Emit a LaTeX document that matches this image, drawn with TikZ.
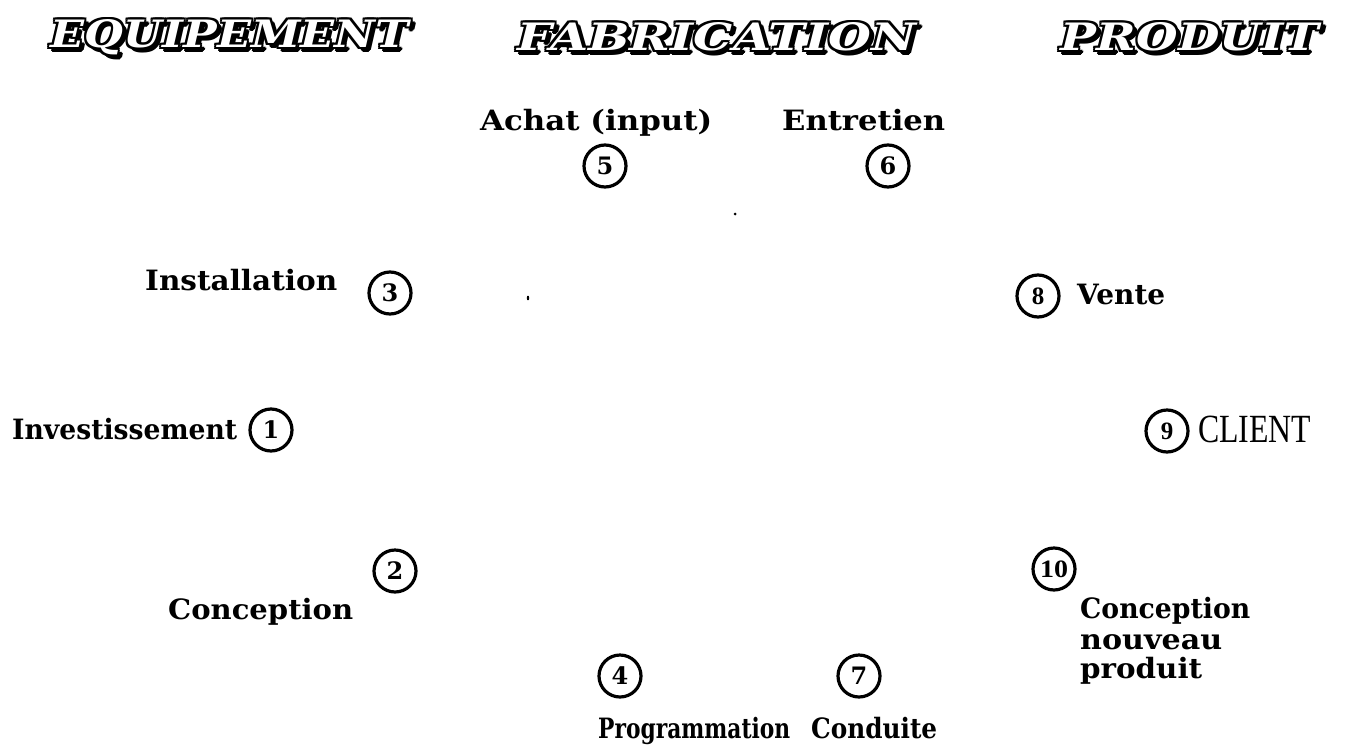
\documentclass[tikz,border=0pt]{standalone}
\usepackage{fontspec}
\usepackage{graphicx}
\setmainfont{DejaVu Serif}
\newfontfamily\tmsfont{Liberation Serif}
\newcommand{\fitw}[2]{\resizebox{#1}{\height}{#2}}
\newcommand{\hdrtxt}[2]{\resizebox{#1}{28pt}{\bfseries\itshape #2}}
\tikzset{
  lbl/.style={anchor=base west, inner sep=0pt, font=\fontsize{28}{30}\selectfont\bfseries},
  num/.style={circle, draw, line width=3.2pt, minimum size=42pt, inner sep=0pt,
              font=\fontsize{24}{24}\selectfont\bfseries},
  tnum/.style={font=\fontsize{25}{25}\selectfont\tmsfont\bfseries},
  hdr/.style={inner sep=0pt, anchor=center},
}
\begin{document}
\begin{tikzpicture}[x=1pt,y=-1pt]
\useasboundingbox (0,0) rectangle (1346,747);
% headers (outline + shadow)
\foreach \dx/\dy [count=\i] in {-2/-2,0/-2,2/-2,-2/0,2/0,-2/2,0/2,2/2,3/3,4/4,4/2,2/4,3/5,5/3}{
  \node[hdr,text=black] (sa\i) at (230+\dx,37+\dy) {\hdrtxt{358pt}{EQUIPEMENT}};
  \node[hdr,text=black] (sb\i) at (717+\dx,37+\dy) {\hdrtxt{398pt}{FABRICATION}};
  \node[hdr,text=black] (sc\i) at (1190+\dx,37+\dy) {\hdrtxt{258pt}{PRODUIT}};
}
\node[hdr,text=white] (hEq) at (230,37) {\hdrtxt{358pt}{EQUIPEMENT}};
\node[hdr,text=white] (hFab) at (717,37) {\hdrtxt{398pt}{FABRICATION}};
\node[hdr,text=white] (hProd) at (1190,37) {\hdrtxt{258pt}{PRODUIT}};
% numbered circles
\node[num] (n1) at (271,430) {1};
\node[num] (n2) at (395,571) {2};
\node[num] (n3) at (390,293) {3};
\node[num] (n4) at (620,676) {4};
\node[num] (n5) at (605,166) {5};
\node[num] (n6) at (888,166) {6};
\node[num] (n7) at (859,676) {7};
\node[num,tnum] (n8) at (1038,296) {8};
\node[num,tnum] (n9) at (1167,431) {9};
\node[num,tnum] (n10) at (1054,569) {\fitw{28pt}{10}};
% labels
\node[lbl] (tAchat) at (480,130) {\fitw{232pt}{Achat (input)}};
\node[lbl] (tEntr) at (782,130) {\fitw{163pt}{Entretien}};
\node[lbl] (tInst) at (145,290) {\fitw{192pt}{Installation}};
\node[lbl] (tVente) at (1077,304) {\fitw{88pt}{Vente}};
\node[lbl] (tInv) at (12,439) {\fitw{225pt}{Investissement}};
\node[anchor=base west, inner sep=0pt, font=\fontsize{40}{42}\selectfont\tmsfont] (tClient) at (1198,442) {\fitw{113pt}{CLIENT}};
\node[lbl] (tConc) at (168,619) {\fitw{185pt}{Conception}};
\node[lbl] (tCnp1) at (1080,618) {\fitw{170pt}{Conception}};
\node[lbl] (tCnp2) at (1080,649) {\fitw{142pt}{nouveau}};
\node[lbl] (tCnp3) at (1080,678) {\fitw{122pt}{produit}};
\node[lbl] (tProg) at (598,738) {\fitw{192pt}{Programmation}};
\node[lbl] (tCond) at (811,738) {\fitw{126pt}{Conduite}};
% stray dots
\fill (735,214) circle (1.5pt);
\fill (528,298) ellipse (1.2pt and 2.4pt);
\end{tikzpicture}
\end{document}
